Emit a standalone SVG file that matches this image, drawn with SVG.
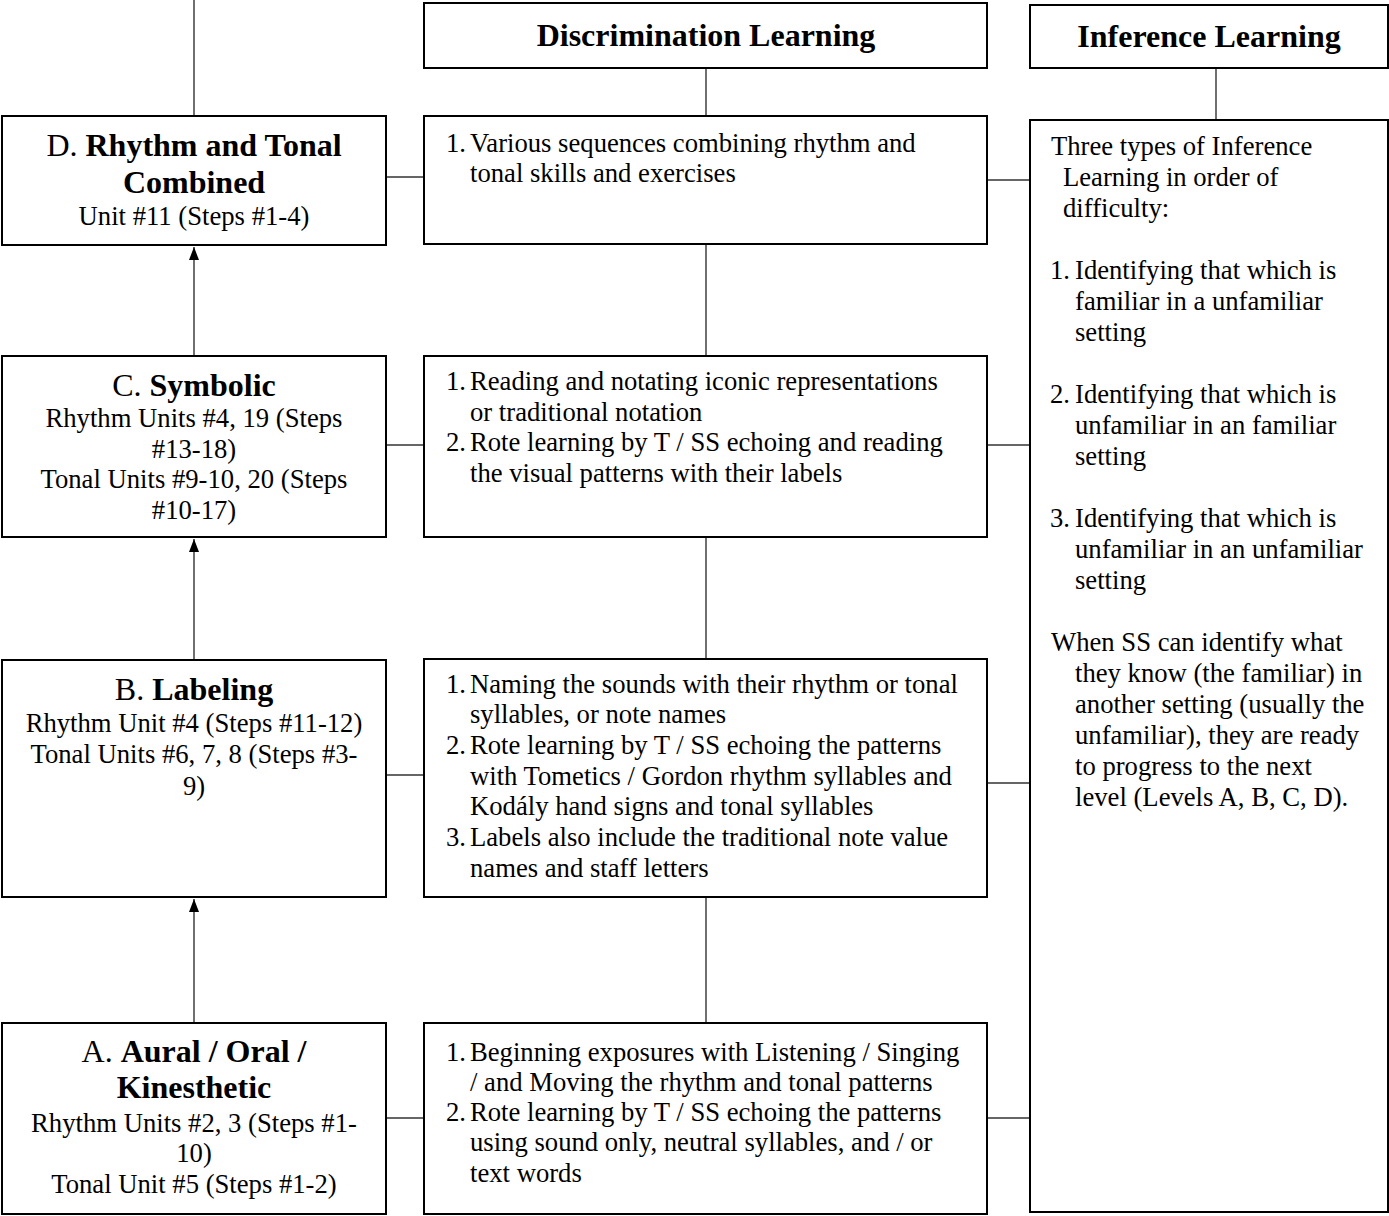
<svg xmlns="http://www.w3.org/2000/svg" width="1389" height="1216" viewBox="0 0 1389 1216">
<style>
.box{fill:#fff;stroke:#000;stroke-width:2}
.ln{stroke:#333;stroke-width:1.4;fill:none}
text{font-family:"Liberation Serif","Times New Roman",serif;fill:#000}
.t{font-size:26.67px}
.c{text-anchor:middle}
.h{font-size:32px;font-weight:bold}
.hb{font-size:32px}
.b{font-weight:bold}
</style>
<defs>
<marker id="ah" markerWidth="13" markerHeight="10" refX="13" refY="5" orient="auto" markerUnits="userSpaceOnUse" viewBox="0 0 13 10">
<path d="M0,0 L13,5 L0,10 Z" fill="#000"/>
</marker>
</defs>
<g id="connectors">
<line class="ln" x1="194" y1="0" x2="194" y2="116"/>
<line class="ln" x1="194" y1="356" x2="194" y2="247" marker-end="url(#ah)"/>
<line class="ln" x1="194" y1="660" x2="194" y2="539" marker-end="url(#ah)"/>
<line class="ln" x1="194" y1="1023" x2="194" y2="899" marker-end="url(#ah)"/>
<line class="ln" x1="706" y1="68" x2="706" y2="116"/>
<line class="ln" x1="706" y1="244" x2="706" y2="356"/>
<line class="ln" x1="706" y1="537" x2="706" y2="659"/>
<line class="ln" x1="706" y1="897" x2="706" y2="1023"/>
<line class="ln" x1="1216" y1="68" x2="1216" y2="120"/>
<line class="ln" x1="386" y1="177" x2="424" y2="177"/>
<line class="ln" x1="386" y1="445" x2="424" y2="445"/>
<line class="ln" x1="386" y1="775" x2="424" y2="775"/>
<line class="ln" x1="386" y1="1118" x2="424" y2="1118"/>
<line class="ln" x1="987" y1="180" x2="1030" y2="180"/>
<line class="ln" x1="987" y1="445" x2="1030" y2="445"/>
<line class="ln" x1="987" y1="783" x2="1030" y2="783"/>
<line class="ln" x1="987" y1="1118" x2="1030" y2="1118"/>
</g>
<g id="hdr-discrimination">
<rect class="box" x="424" y="3" width="563" height="65"/>
<text class="h c" x="706" y="46">Discrimination Learning</text>
</g>
<g id="hdr-inference">
<rect class="box" x="1030" y="5" width="358" height="63"/>
<text class="h c" x="1209" y="47">Inference Learning</text>
</g>
<g id="level-d">
<rect class="box" x="2" y="116" width="384" height="129"/>
<text class="hb c" x="194" y="156">D. <tspan class="b">Rhythm and Tonal</tspan></text>
<text class="h c" x="194" y="193">Combined</text>
<text class="t c" x="194" y="225">Unit #11 (Steps #1-4)</text>
</g>
<g id="level-c">
<rect class="box" x="2" y="356" width="384" height="181"/>
<text class="hb c" x="194" y="396">C. <tspan class="b">Symbolic</tspan></text>
<text class="t c" x="194" y="427">Rhythm Units #4, 19 (Steps</text>
<text class="t c" x="194" y="458">#13-18)</text>
<text class="t c" x="194" y="488">Tonal Units #9-10, 20 (Steps</text>
<text class="t c" x="194" y="519">#10-17)</text>
</g>
<g id="level-b">
<rect class="box" x="2" y="660" width="384" height="237"/>
<text class="hb c" x="194" y="700">B. <tspan class="b">Labeling</tspan></text>
<text class="t c" x="194" y="732">Rhythm Unit #4 (Steps #11-12)</text>
<text class="t c" x="194" y="763">Tonal Units #6, 7, 8 (Steps #3-</text>
<text class="t c" x="194" y="795">9)</text>
</g>
<g id="level-a">
<rect class="box" x="2" y="1023" width="384" height="191"/>
<text class="hb c" x="194" y="1062">A. <tspan class="b">Aural / Oral /</tspan></text>
<text class="h c" x="194" y="1098">Kinesthetic</text>
<text class="t c" x="194" y="1132">Rhythm Units #2, 3 (Steps #1-</text>
<text class="t c" x="194" y="1162">10)</text>
<text class="t c" x="194" y="1193">Tonal Unit #5 (Steps #1-2)</text>
</g>
<g id="disc-d">
<rect class="box" x="424" y="116" width="563" height="128"/>
<text class="t" x="446" y="152">1.</text>
<text class="t" x="470" y="152">Various sequences combining rhythm and</text>
<text class="t" x="470" y="182">tonal skills and exercises</text>
</g>
<g id="disc-c">
<rect class="box" x="424" y="356" width="563" height="181"/>
<text class="t" x="446" y="390">1.</text>
<text class="t" x="470" y="390">Reading and notating iconic representations</text>
<text class="t" x="470" y="421">or traditional notation</text>
<text class="t" x="446" y="451">2.</text>
<text class="t" x="470" y="451">Rote learning by T / SS echoing and reading</text>
<text class="t" x="470" y="482">the visual patterns with their labels</text>
</g>
<g id="disc-b">
<rect class="box" x="424" y="659" width="563" height="238"/>
<text class="t" x="446" y="693">1.</text>
<text class="t" x="470" y="693">Naming the sounds with their rhythm or tonal</text>
<text class="t" x="470" y="723">syllables, or note names</text>
<text class="t" x="446" y="754">2.</text>
<text class="t" x="470" y="754">Rote learning by T / SS echoing the patterns</text>
<text class="t" x="470" y="785">with Tometics / Gordon rhythm syllables and</text>
<text class="t" x="470" y="815">Kodály hand signs and tonal syllables</text>
<text class="t" x="446" y="846">3.</text>
<text class="t" x="470" y="846">Labels also include the traditional note value</text>
<text class="t" x="470" y="877">names and staff letters</text>
</g>
<g id="disc-a">
<rect class="box" x="424" y="1023" width="563" height="191"/>
<text class="t" x="446" y="1061">1.</text>
<text class="t" x="470" y="1061">Beginning exposures with Listening / Singing</text>
<text class="t" x="470" y="1091">/ and Moving the rhythm and tonal patterns</text>
<text class="t" x="446" y="1121">2.</text>
<text class="t" x="470" y="1121">Rote learning by T / SS echoing the patterns</text>
<text class="t" x="470" y="1151">using sound only, neutral syllables, and / or</text>
<text class="t" x="470" y="1182">text words</text>
</g>
<g id="inference">
<rect class="box" x="1030" y="120" width="358" height="1092"/>
<text class="t" x="1051" y="155">Three types of Inference</text>
<text class="t" x="1063" y="186">Learning in order of</text>
<text class="t" x="1063" y="217">difficulty:</text>
<text class="t" x="1050" y="279">1.</text>
<text class="t" x="1075" y="279">Identifying that which is</text>
<text class="t" x="1075" y="310">familiar in a unfamiliar</text>
<text class="t" x="1075" y="341">setting</text>
<text class="t" x="1050" y="403">2.</text>
<text class="t" x="1075" y="403">Identifying that which is</text>
<text class="t" x="1075" y="434">unfamiliar in an familiar</text>
<text class="t" x="1075" y="465">setting</text>
<text class="t" x="1050" y="527">3.</text>
<text class="t" x="1075" y="527">Identifying that which is</text>
<text class="t" x="1075" y="558">unfamiliar in an unfamiliar</text>
<text class="t" x="1075" y="589">setting</text>
<text class="t" x="1051" y="651">When SS can identify what</text>
<text class="t" x="1075" y="682">they know (the familiar) in</text>
<text class="t" x="1075" y="713">another setting (usually the</text>
<text class="t" x="1075" y="744">unfamiliar), they are ready</text>
<text class="t" x="1075" y="775">to progress to the next</text>
<text class="t" x="1075" y="806">level (Levels A, B, C, D).</text>
</g>
</svg>
